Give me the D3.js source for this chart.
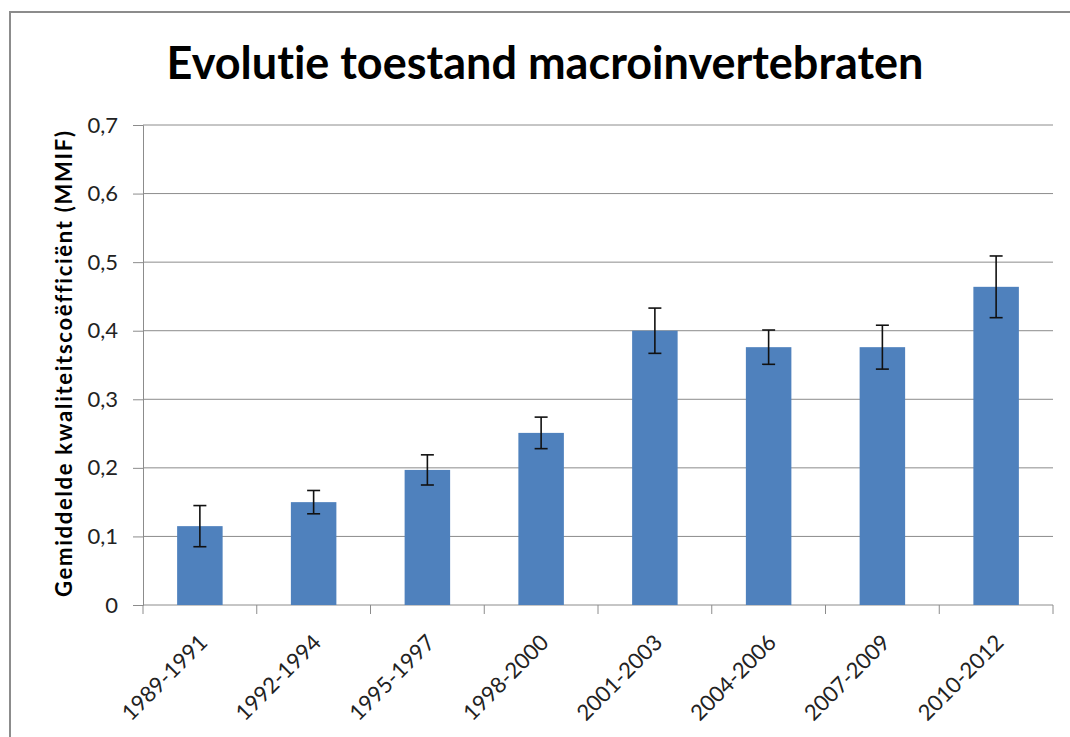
<!DOCTYPE html>
<meta charset="utf-8">
<script src="https://d3js.org/d3.v7.min.js"></script>
<style>
  body { margin: 0; background: #fff; }
  text { font-family: Lato, "Open Sans", sans-serif; font-variant-ligatures: none; }
</style>
<div id="my_dataviz"></div>
<script>
    // data
    var periods = ["1989-1991", "1992-1994", "1995-1997", "1998-2000",
                   "2001-2003", "2004-2006", "2007-2009", "2010-2012"];
    var means  = [0.115, 0.150, 0.197, 0.251, 0.400, 0.376, 0.376, 0.464];
    var errors = [0.030, 0.017, 0.022, 0.023, 0.033, 0.025, 0.032, 0.045];
    var yTicks = [0, 0.1, 0.2, 0.3, 0.4, 0.5, 0.6, 0.7];

    var W = 1070, H = 737;
    var margin = {top: 125, right: 17, bottom: 132, left: 143},
        width = W - margin.left - margin.right,
        height = H - margin.top - margin.bottom;

    var root = d3.select("#my_dataviz")
      .append("svg")
        .attr("width", W)
        .attr("height", H);

    // outer frame of the chart area (right and bottom fall outside the picture)
    root.append("rect")
        .attr("x", 10).attr("y", 12)
        .attr("width", 1200).attr("height", 900)
        .attr("fill", "none")
        .attr("stroke", "#8c8c8c")
        .attr("stroke-width", 2);

    root.append("text")
        .attr("x", 545).attr("y", 79)
        .attr("text-anchor", "middle")
        .style("font-size", "45px")
        .style("font-weight", "bold")
        .text("Evolutie toestand macroinvertebraten");

    var svg = root.append("g")
        .attr("transform", "translate(" + margin.left + "," + margin.top + ")");

    var x = d3.scaleBand()
        .domain(periods)
        .range([0, width])
        .paddingInner(0.6)
        .paddingOuter(0.3);

    var y = d3.scaleLinear()
        .domain([0, 0.7])
        .range([height, 0]);

    // y axis
    var yAxis = svg.append("g")
        .call(d3.axisLeft(y).tickValues(yTicks).tickSize(10)
              .tickFormat(d => d === 0 ? "0" : d3.format(".1f")(d).replace(".", ",")));
    yAxis.select(".domain").attr("stroke", "#8c8c8c");
    yAxis.selectAll(".tick line").attr("stroke", "#8c8c8c");
    yAxis.selectAll(".tick text")
        .attr("x", -25)
        .attr("fill", "#222")
        .style("font-size", "22px")
        .style("font-family", "Lato, sans-serif");

    // gridlines
    svg.append("g")
      .selectAll("line")
      .data(yTicks.filter(d => d > 0))
      .join("line")
        .attr("x1", 0).attr("x2", width)
        .attr("y1", d => y(d)).attr("y2", d => y(d))
        .attr("stroke", "#8c8c8c")
        .attr("stroke-width", 1);

    // x axis with ticks at band boundaries
    var xAxis = svg.append("g")
        .attr("transform", "translate(0," + height + ")");
    xAxis.append("line")
        .attr("x1", 0).attr("x2", width)
        .attr("stroke", "#8c8c8c");
    xAxis.selectAll(".xtick")
      .data(d3.range(periods.length + 1))
      .join("line")
        .attr("class", "xtick")
        .attr("x1", i => i * x.step()).attr("x2", i => i * x.step())
        .attr("y1", 0).attr("y2", 9)
        .attr("stroke", "#8c8c8c");
    xAxis.selectAll(".xlabel")
      .data(periods)
      .join("text")
        .attr("class", "xlabel")
        .attr("transform", d => "translate(" + (x(d) + x.bandwidth() / 2 + 9) + ",39)rotate(-45)")
        .attr("text-anchor", "end")
        .attr("fill", "#222")
        .style("font-size", "22px")
        .text(d => d);

    // bars
    svg.selectAll(".bar")
      .data(periods)
      .join("rect")
        .attr("class", "bar")
        .attr("x", d => x(d))
        .attr("y", (d, i) => y(means[i]))
        .attr("width", x.bandwidth())
        .attr("height", (d, i) => y(0) - y(means[i]))
        .attr("fill", "#4f81bd");

    // error bars
    var eb = svg.selectAll(".err")
      .data(periods)
      .join("g")
        .attr("class", "err")
        .attr("stroke", "#111")
        .attr("stroke-width", 1.6);
    var capW = 6.5;
    eb.append("line")
        .attr("x1", d => x(d) + x.bandwidth() / 2)
        .attr("x2", d => x(d) + x.bandwidth() / 2)
        .attr("y1", (d, i) => y(means[i] + errors[i]))
        .attr("y2", (d, i) => y(means[i] - errors[i]));
    eb.append("line")
        .attr("x1", d => x(d) + x.bandwidth() / 2 - capW)
        .attr("x2", d => x(d) + x.bandwidth() / 2 + capW)
        .attr("y1", (d, i) => y(means[i] + errors[i]))
        .attr("y2", (d, i) => y(means[i] + errors[i]));
    eb.append("line")
        .attr("x1", d => x(d) + x.bandwidth() / 2 - capW)
        .attr("x2", d => x(d) + x.bandwidth() / 2 + capW)
        .attr("y1", (d, i) => y(means[i] - errors[i]))
        .attr("y2", (d, i) => y(means[i] - errors[i]));

    // y axis title
    root.append("text")
        .attr("transform", "translate(72,364)rotate(-90)")
        .attr("text-anchor", "middle")
        .attr("textLength", 466)
        .attr("lengthAdjust", "spacing")
        .style("font-size", "22px")
        .style("font-weight", "bold")
        .text("Gemiddelde kwaliteitscoëfficiënt (MMIF)");
</script>
